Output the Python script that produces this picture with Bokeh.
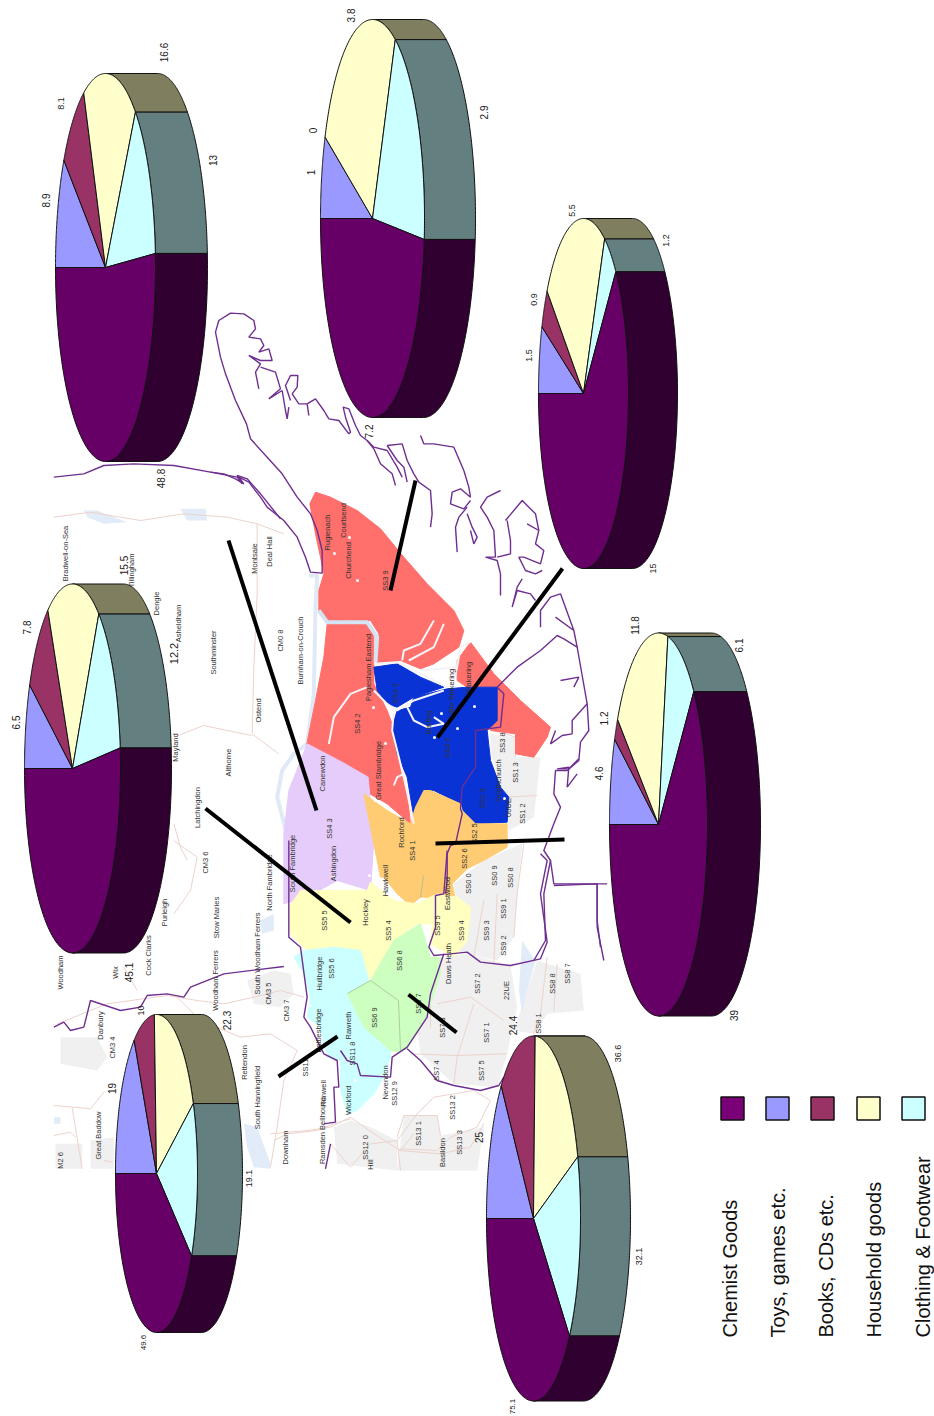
import numpy as np
from bokeh.plotting import figure
from bokeh.embed import file_html
from bokeh.resources import INLINE
from bokeh.core.properties import value

# ---------- chart data ----------
categories = ["Chemist Goods", "Toys, games etc.", "Books, CDs etc.", "Household goods", "Clothing & Footwear"]
# slices in drawing order: toys, books, household, clothing, chemist
pie_toys = [8.9, 1, 1.5, 4.6, 6.5, 19, 25]
pie_books = [8.1, 0, 0.9, 1.2, 7.8, 10, 24.4]
pie_house = [16.6, 3.8, 5.5, 11.8, 15.5, 22.3, 36.6]
pie_cloth = [13, 2.9, 1.2, 6.1, 12.2, 19.1, 32.1]
pie_chem = [48.8, 7.2, 15, 39, 45.1, 49.6, 75.1]
# pie placement: centre x, centre y, radius x, radius y, depth
pie_cx = [105, 372, 583, 658, 72, 156, 533]
pie_cy = [267, 218, 393, 824, 768, 1173, 1218]
pie_rx = [50, 52, 45, 49, 48, 41, 47]
pie_ry = [194, 199, 175, 191.5, 184.5, 159, 182.5]
pie_d = [52, 51, 49, 53, 51, 45, 50]

top_cols = ["#9999ff", "#993366", "#ffffcc", "#ccffff", "#660066"]
wall_cols = ["#62628f", "#5c2240", "#7f7f60", "#637f80", "#300030"]
legend_cols = ["#7a0078", "#9999ff", "#993366", "#ffffcc", "#ccffff"]

val_labels = [
    ("8.9", 45, 200, 10), ("8.1", 60, 103, 9), ("16.6", 163, 52, 10), ("13", 212, 160, 10), ("48.8", 160, 478, 10),
    ("1", 310, 172, 10), ("0", 312, 130, 10), ("3.8", 350, 15, 10), ("2.9", 483, 112, 10), ("7.2", 368, 431, 10),
    ("1.5", 528, 355, 9), ("0.9", 533, 299, 9), ("5.5", 571, 210, 9), ("1.2", 665, 240, 9), ("15", 652, 568, 9),
    ("4.6", 598, 773, 10), ("1.2", 603, 718, 10), ("11.8", 634, 625, 10), ("6.1", 738, 645, 10), ("39", 733, 1015, 10),
    ("6.5", 15, 722, 10), ("7.8", 26, 627, 10), ("15.5", 123, 565, 10), ("12.2", 173, 653, 11), ("45.1", 128, 972, 10),
    ("19", 111, 1088, 10), ("10", 140, 1010, 9), ("22.3", 226, 1020, 10), ("19.1", 248, 1178, 9), ("49.6", 143, 1342, 8),
    ("25", 478, 1137, 10), ("24.4", 512, 1025, 10), ("36.6", 617, 1053, 9), ("32.1", 638, 1256, 9), ("75.1", 512, 1406, 8),
]

place_labels = [
    ("Rugienach", 327, 532), ("Courtsend", 343, 520), ("Churchend", 348, 560), ("SS3 9", 385, 580),
    ("Paglesham Eastend", 368, 667), ("SS4 2", 357, 723), ("Great Stambridge", 378, 770), ("Rochford", 401, 832),
    ("SS4 1", 412, 850), ("Barling", 428, 722), ("Little Wakering", 451, 693), ("Wakering", 468, 677),
    ("SS3 0", 447, 747), ("SS3 4", 395, 693), ("SS2 4", 482, 798), ("Southchurch", 498, 780), ("SS3 8", 502, 742),
    ("SS1 3", 515, 772), ("SS1 2", 522, 813), ("SS2 5", 474, 833), ("00UE", 508, 807),
    ("Montsaie", 254, 558), ("Deal Hall", 269, 551), ("CM0 8", 280, 640), ("Burnham-on-Crouch", 300, 650),
    ("Southminster", 213, 652), ("Ostend", 258, 710), ("Althorne", 228, 762), ("Canewdon", 322, 773),
    ("SS4 3", 329, 828), ("Ashingdon", 333, 863), ("Latchingdon", 197, 807), ("CM3 6", 205, 862),
    ("Purleigh", 164, 912), ("Stow Maries", 216, 917), ("North Fambridge", 269, 882), ("South Fambridge", 292, 863),
    ("SS5 5", 324, 920), ("Hockley", 365, 912), ("Hawkwell", 385, 880), ("SS5 4", 388, 930), ("SS6 8", 399, 960),
    ("SS5 6", 331, 968), ("Hullbridge", 319, 973), ("South Woodham Ferrers", 257, 953), ("Woodham Ferrers", 215, 980),
    ("CM3 5", 268, 993), ("CM3 7", 286, 1010), ("Cock Clarks", 148, 955), ("Wix", 115, 972), ("Woodham", 60, 972),
    ("Danbury", 100, 1025), ("CM3 4", 112, 1047), ("Rettendon", 244, 1062), ("South Hanningfield", 257, 1097),
    ("Downham", 285, 1147), ("Runwell", 323, 1093), ("Battlesbridge", 318, 1030), ("Rawreth", 348, 1025),
    ("SS11 8", 352, 1053), ("SS6 9", 374, 1017), ("SS6 7", 418, 1003), ("SS11", 305, 1067), ("Wickford", 348, 1100),
    ("Nevendon", 385, 1082), ("SS12 9", 394, 1093), ("SS12 0", 365, 1147), ("Hill", 370, 1164), ("SS13 1", 418, 1133),
    ("Great Baddow", 98, 1135), ("M2 6", 60, 1160), ("Ramsden Bellhouse", 322, 1130),
    ("SS2 6", 464, 858), ("Eastwood", 447, 893), ("SS9 5", 437, 925), ("SS9 4", 461, 930), ("SS0 0", 468, 883),
    ("SS0 9", 494, 875), ("SS0 8", 510, 877), ("SS9 1", 503, 908), ("SS9 3", 486, 930), ("SS9 2", 503, 945),
    ("Daws Heath", 448, 963), ("SS7 2", 477, 983), ("22UE", 506, 990), ("SS8 8", 552, 983), ("SS8 7", 567, 973),
    ("SS8 1", 538, 1023), ("SS7 1", 486, 1032), ("SS7 3", 442, 1027), ("SS7 4", 436, 1070), ("SS7 5", 481, 1070),
    ("SS13 2", 452, 1107), ("SS13 3", 459, 1142), ("Basildon", 442, 1152),
    ("Bradwell-on-Sea", 65, 553), ("Tillingham", 131, 570), ("Dengie", 156, 603), ("Asheldham", 178, 623), ("Mayland", 175, 747),
]

# leader lines from wards to pies
lead_x = [[415, 390], [562, 437], [228, 316], [205, 350], [564, 435], [456, 408], [337, 278]]
lead_y = [[480, 590], [568, 737], [540, 810], [808, 922], [839, 843], [1032, 994], [1036, 1076]]

# ---------- map outlines, read in crop coordinates (origin x, origin y, points at 3x) ----------
A = (200, 460)   # central crop
B = (40, 840)    # south-west crop
C = (340, 760)   # south crop
D = (210, 300)   # north coast crop
E = (440, 560)   # east coast crop
F = (40, 460)    # north-west crop
G = (270, 1060)  # basildon crop
H = (40, 980)    # west crop

red_north = (A, [(345,95),(390,110),(470,150),(540,205),(610,290),(680,370),(760,450),(790,510),(775,560),(700,610),(660,625),(600,600),(530,610),(535,520),(510,480),(450,480),(390,490),(355,450),(355,390),(370,340),(360,290),(345,220),(328,130)])
red_west = (A, [(380,490),(500,490),(520,520),(520,610),(520,670),(560,750),(590,830),(600,930),(620,1000),(630,1090),(560,1030),(490,990),(420,930),(318,855),(345,720),(370,590)])
red_east = (A, [(810,545),(880,640),(960,720),(1050,800),(1040,830),(1000,890),(945,880),(945,820),(870,810),(890,680),(800,680),(770,660),(770,600)])
blue_north = (A, [(520,620),(590,610),(660,650),(730,680),(640,710),(590,740),(560,730),(530,690)])
blue_main = (A, [(590,750),(630,740),(640,710),(740,685),(800,680),(890,680),(890,780),(860,810),(870,900),(900,980),(925,1010),(920,1085),(825,1090),(790,1060),(780,1030),(700,990),(670,990),(640,1070),(620,950),(590,880),(575,800)])
lilac = (B, [(800,-290),(905,-235),(983,-190),(1000,0),(990,150),(890,120),(800,170),(730,190),(730,-20),(745,-150)])
orange = (C, [(70,100),(140,150),(210,190),(225,140),(250,90),(270,90),(360,130),(365,150),(405,190),(500,190),(500,260),(430,300),(380,325),(335,370),(350,440),(290,410),(240,410),(210,435),(170,400),(130,350),(120,350)])
yellow = (B, [(745,200),(780,150),(980,150),(990,125),(1060,180),(1130,190),(1190,160),(1250,170),(1290,200),(1280,300),(1240,350),(1205,330),(1170,310),(1175,250),(1130,250),(1060,300),(1030,370),(990,420),(960,330),(880,320),(800,330),(750,280)])
cyan = (B, [(760,350),(790,330),(880,320),(960,330),(985,420),(920,460),(970,560),(1050,630),(1050,650),(1030,710),(1000,760),(950,810),(920,820),(900,750),(900,660),(860,650),(840,560),(800,530),(810,470),(790,400)])
green = (B, [(1140,250),(1170,350),(1200,350),(1200,400),(1160,520),(1100,625),(1075,635),(1050,630),(970,560),(920,460),(990,420),(1060,300)])
region_shapes = [(red_north, "#ff6f6b"), (red_west, "#ff6f6b"), (red_east, "#ff6f6b"), (blue_north, "#0a33d6"),
                 (blue_main, "#0a33d6"), (lilac, "#e6ccfa"), (orange, "#ffcc73"), (yellow, "#ffffc0"),
                 (cyan, "#ccffff"), (green, "#ccffc0")]

gray_shapes = [
    (C, [(340,370),(430,300),(510,265),(545,250),(530,400),(430,410),(350,440)]),
    (C, [(350,440),(420,405),(530,400),(520,530),(470,600),(380,580),(340,570)]),
    (C, [(300,590),(380,580),(510,615),(530,740),(500,880),(470,980),(340,970),(240,880),(230,800)]),
    (C, [(590,600),(720,640),(730,750),(620,760),(580,820),(520,810)]),
    (E, [(150,520),(225,530),(225,590),(300,590),(280,770),(205,810),(195,720),(150,580)]),
    (G, [(400,165),(500,165),(510,225),(640,200),(620,330),(380,330)]),
    (G, [(190,200),(240,180),(300,200),(380,240),(380,330),(200,310)]),
    (B, [(620,420),(700,390),(750,400),(760,460),(720,500),(640,490)]),
    (H, [(60,170),(170,170),(200,230),(170,270),(60,250)]),
    (H, [(150,480),(220,470),(220,565),(150,565)]),
    (H, [(45,490),(125,490),(125,565),(45,565)]),
]
water_shapes = [
    (H, [(610,430),(650,440),(690,550),(690,565),(640,560),(620,500)]),
    (F, [(130,150),(170,150),(260,185),(190,190),(140,170)]),
    (F, [(420,145),(495,145),(500,180),(440,180)]),
    (H, [(40,410),(60,410),(60,430),(40,430)]),
    (B, [(660,240),(700,220),(700,270),(665,280)]),
    (C, [(545,540),(570,580),(585,600),(560,690),(545,760),(535,690)]),
]
river_pale = [
    (A, [(325,345),(350,345),(345,440),(340,700),(320,850),(280,880),(245,930),(230,1010),(280,1200)]),
    (A, [(355,450),(380,485),(500,485),(530,530),(525,605)]),
]
river_white = [
    (A, [(520,610),(590,605),(660,640),(740,680)]),
    (A, [(520,690),(560,730),(590,750),(640,720),(730,690)]),
    (A, [(580,750),(575,810),(590,870),(610,950),(640,1090)]),
    (A, [(620,740),(640,780),(680,800),(730,790),(700,770)]),
    (A, [(605,600),(610,570),(660,550),(700,480)]),
    (A, [(625,600),(700,560),(730,490)]),
    (A, [(660,630),(770,620),(780,560),(810,545)]),
    (A, [(770,620),(755,680)]),
    (A, [(500,680),(450,700),(400,770),(385,850)]),
    (A, [(610,940),(590,950),(580,975)]),
]
road_lines = [
    (F, [(40,170),(150,155),(300,180),(430,160),(560,170),(650,190),(730,220)]),
    (F, [(650,190),(650,400),(640,620),(635,820),(715,880)]),
    (F, [(400,830),(490,795),(560,810),(635,825)]),
    (F, [(400,1090),(420,1160),(440,1200)]),
    (B, [(400,0),(470,50),(450,150),(400,220)]),
    (B, [(50,550),(200,490),(380,465),(470,480),(550,490),(640,470),(720,450),(790,470)]),
    (B, [(250,380),(290,450)]),
    (B, [(410,470),(480,540),(600,590),(690,580),(770,630),(730,720),(710,860),(690,980)]),
    (B, [(690,880),(800,870),(870,860),(930,830),(1000,880),(1080,930),(1120,880)]),
    (H, [(40,375),(100,380),(150,385),(190,335)]),
    (H, [(95,380),(125,565)]),
    (H, [(40,465),(90,455),(105,470)]),
    (H, [(190,540),(215,545)]),
    (C, [(290,730),(390,710),(490,780)]),
    (C, [(400,730),(350,890),(340,970)]),
    (C, [(210,880),(350,885),(500,880)]),
    (C, [(270,720),(270,800)]),
    (C, [(430,420),(400,590)]),
    (C, [(470,400),(460,610)]),
    (C, [(550,250),(530,400),(520,530)]),
    (C, [(620,590),(600,760),(580,820)]),
    (C, [(650,610),(640,750)]),
    (C, [(450,1020),(400,990),(280,1010),(230,1060),(170,1140),(180,1230)]),
    (C, [(180,1165),(290,1170),(330,1130),(410,1100),(450,1020)]),
    (G, [(380,230),(400,165),(500,165),(510,225)]),
    (G, [(385,270),(510,280),(600,260),(640,190)]),
    (G, [(10,240),(50,220),(140,210),(190,190),(240,175)]),
    (G, [(180,250),(240,320),(300,250),(380,240)]),
    (E, [(150,505),(225,530),(225,590)]),
    (E, [(195,710),(290,705)]),
]
purple_lines = [
    (F, [(40,50),(130,40),(190,15),(280,10),(400,15),(510,35),(590,50),(605,70),(590,45),(620,55),(660,100),(720,175)]),
    (D, [(0,515),(40,520),(75,535),(100,550),(85,530),(115,545),(150,590),(170,620),(220,660),(260,710),(285,770),(300,815),(335,818),(335,750),(320,690),(300,640),(260,590),(215,520),(170,470),(120,415),(108,370),(75,300),(45,220),(30,170),(15,95),(25,60),(60,38),(100,40),(130,60),(135,85),(115,110),(150,115),(160,135),(145,155),(175,145),(185,180),(150,180),(115,165),(150,190),(135,215),(145,265)]),
    (D, [(150,200),(195,215),(210,265),(175,295),(215,270),(225,330),(230,355),(235,320)]),
    (D, [(240,300),(225,255),(240,225),(262,225),(260,260),(245,280),(265,310),(290,310),(295,345),(290,310),(315,295),(340,330),(355,355),(385,360),(415,400),(420,395),(405,350),(398,320),(415,325),(435,375),(450,405),(470,420),(490,445),(510,490),(545,520),(555,555)]),
    (D, [(470,420),(490,440),(530,450),(560,500),(575,530)]),
    (D, [(530,435),(575,430),(590,480),(610,520),(625,545),(660,570),(665,640),(660,680)]),
    (D, [(530,435),(560,480),(580,500),(590,545)]),
    (D, [(630,405),(640,430),(670,430),(730,440),(760,510),(775,560),(780,590),(750,565),(725,575),(720,610),(760,625),(780,600)]),
    (D, [(770,620),(745,650),(735,680),(740,755)]),
    (D, [(770,640),(785,680),(800,710),(790,730),(780,690)]),
    (D, [(870,570),(830,590),(810,620),(830,650),(850,690),(855,770),(825,770),(860,780),(870,820),(870,885)]),
    (D, [(885,660),(935,600),(975,640),(985,690),(950,670),(985,690),(975,730),(1000,750),(990,790),(940,770),(925,770),(945,810),(975,820),(995,810)]),
    (D, [(890,660),(900,720),(900,760),(860,770)]),
    (D, [(935,835),(920,860),(905,920),(920,870),(960,880),(975,900)]),
    (E, [(170,380),(230,320),(300,270),(350,225),(370,235),(410,260),(425,345),(440,430),(445,510),(420,545),(415,600),(380,630),(345,630),(340,700),(360,740),(340,790),(310,870),(330,900),(340,970),(500,970)]),
    (E, [(300,200),(300,150),(330,110),(360,100),(400,210),(345,170)]),
    (E, [(400,210),(410,260)]),
    (E, [(345,510),(330,550),(365,525),(395,520),(395,480),(440,430)]),
    (E, [(415,595),(385,625),(350,625),(385,620),(380,680),(410,640)]),
    (E, [(360,360),(415,350),(400,380)]),
    (E, [(470,970),(470,1100),(490,1200)]),
    (E, [(330,900),(310,1000),(315,1140),(280,1200)]),
    (E, [(170,380),(190,400),(180,500),(105,510),(105,620),(65,680),(60,745),(65,760),(45,850),(30,855),(20,880),(20,960),(15,1000)]),
    (C, [(320,270),(310,400),(285,405),(285,500),(265,560),(280,585),(330,580),(380,575),(420,605),(510,615),(600,595),(620,545),(600,400),(620,300),(600,280)]),
    (C, [(310,580),(270,700),(260,770),(200,860),(155,890),(150,950),(60,945),(50,910),(20,900),(0,870)]),
    (C, [(200,865),(240,900),(290,960),(340,975),(420,990),(475,975),(490,950)]),
    (C, [(640,375),(770,370),(770,480),(780,560)]),
    (B, [(745,0),(745,290),(780,320),(800,470),(790,530),(810,560),(850,640),(890,660),(895,740),(880,740),(885,845),(850,850)]),
    (B, [(870,910),(855,985)]),
    (B, [(730,378),(550,400),(450,440),(430,470),(380,460),(320,465),(300,500),(240,510),(150,480),(130,560),(90,570),(70,545),(40,560)]),
]
dots_x = [334, 349, 357, 373, 385, 441, 474, 457, 434, 504, 310, 355, 369, 333, 375]
dots_y = [553, 537, 580, 707, 743, 713, 706, 728, 737, 798, 1005, 1080, 875, 876, 800]

# ---------- helpers ----------
def pts(shape):
    (ox, oy), p = shape
    a = np.array(p, dtype=float)
    return (ox + a[:, 0] / 3).tolist(), (oy + a[:, 1] / 3).tolist()

W, H_ = 934, 1416
p = figure(width=W, height=H_, x_range=(0, W), y_range=(H_, 0), output_backend="svg",
           toolbar_location=None, min_border=0, outline_line_color=None, background_fill_color="white")
p.axis.visible = False
p.grid.visible = False
font = value("Liberation Sans")

# map base
for s in gray_shapes:
    xs, ys = pts(s)
    p.patch(xs, ys, fill_color="#f0f0f0", line_color=None)
for s in water_shapes:
    xs, ys = pts(s)
    p.patch(xs, ys, fill_color="#e2ecf8", line_color=None)
for s in road_lines:
    xs, ys = pts(s)
    p.line(xs, ys, line_color="#ecd3cc", line_width=1)
for s in river_pale[:1]:
    xs, ys = pts(s)
    p.line(xs, ys, line_color="#dfeaf6", line_width=4)
for s, col in region_shapes:
    xs, ys = pts(s)
    p.patch(xs, ys, fill_color=col, line_color=col, line_width=1)
# ward divisions
for (x0, y0, x1, y1) in [(347, 993, 370, 980), (370, 980, 398, 1000), (398, 1000, 400, 1050), (420, 897, 423, 875)]:
    p.line([x0, x1], [y0, y1], line_color="#a0b890", line_width=0.7)
for s in river_pale[1:]:
    xs, ys = pts(s)
    p.line(xs, ys, line_color="#d4e4f4", line_width=4)
for s in river_white:
    xs, ys = pts(s)
    p.line(xs, ys, line_color="#f4f4f8", line_width=2)
p.scatter(dots_x, dots_y, size=3, color="white", line_color=None)
for s in purple_lines:
    xs, ys = pts(s)
    p.line(xs, ys, line_color="#6f2f8f", line_width=1.4)
p.text([l[1] for l in place_labels], [l[2] for l in place_labels], text=[l[0] for l in place_labels],
       angle=np.pi / 2, text_font=font, text_font_size="7.5px", text_color="#333333",
       text_align="center", text_baseline="middle")
# leader lines
p.multi_line(lead_x, lead_y, line_color="black", line_width=4)

# pies
series = [pie_toys, pie_books, pie_house, pie_cloth, pie_chem]
for i in range(len(pie_cx)):
    vals = np.array([s[i] for s in series], dtype=float)
    edges = np.concatenate([[0], np.cumsum(vals)]) / vals.sum() * 360
    cx, cy, rx, ry, d = pie_cx[i], pie_cy[i], pie_rx[i], pie_ry[i], pie_d[i]
    def arc(t):
        r = np.radians(t)
        return cx - rx * np.cos(r), cy - ry * np.sin(r)
    # side wall, visible between the top and the bottom of the tilted disc
    for k in range(5):
        a, b = max(edges[k], 90), min(edges[k + 1], 270)
        if b <= a:
            continue
        t = np.linspace(a, b, 60)
        x, y = arc(t)
        p.patch(np.concatenate([x, (x + d)[::-1]]), np.concatenate([y, y[::-1]]),
                fill_color=wall_cols[k], line_color="#111111", line_width=1)
    # top face
    for k in range(5):
        if vals[k] <= 0:
            continue
        t = np.linspace(edges[k], edges[k + 1], 90)
        x, y = arc(t)
        p.patch(np.concatenate([[cx], x]), np.concatenate([[cy], y]),
                fill_color=top_cols[k], line_color="#111111", line_width=1)

p.text([l[1] for l in val_labels], [l[2] for l in val_labels], text=[l[0] for l in val_labels],
       angle=np.pi / 2, text_font=font, text_font_size=[f"{l[3]}px" for l in val_labels], text_color="#222222",
       text_align="center", text_baseline="middle")

# legend
legend_sq_x = [732, 777, 822, 868, 913]
legend_tx_x = [729, 777, 825, 873, 922]
p.rect(legend_sq_x, [1108] * 5, width=23, height=23, fill_color=legend_cols, line_color="#111111", line_width=1.5)
p.text(legend_tx_x, [1337] * 5, text=categories, angle=np.pi / 2, text_font=font, text_font_size="20px",
       text_color="#111111", text_align="left", text_baseline="middle")

open("out.html", "w").write(file_html(p, INLINE))
